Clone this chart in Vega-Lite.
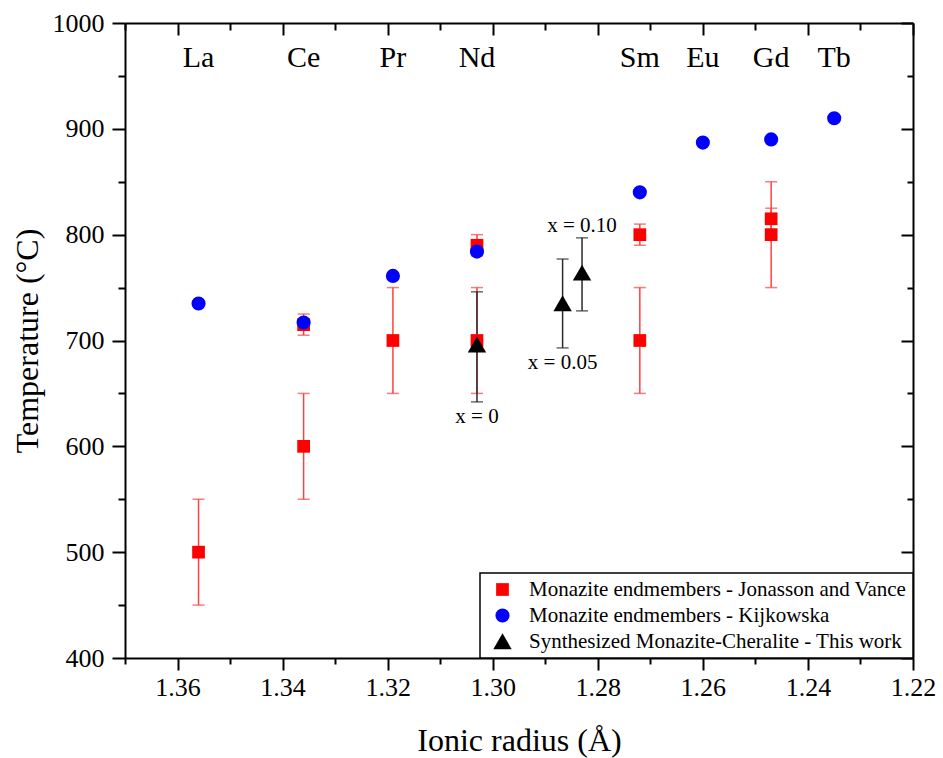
{
  "$schema": "https://vega.github.io/schema/vega-lite/v6.json",
  "width": 788,
  "height": 635,
  "autosize": {"type": "none"},
  "padding": {"left": 125, "top": 23, "right": 30, "bottom": 100},
  "background": "white",
  "config": {
    "view": {"stroke": null},
    "font": "Liberation Serif",
    "legend": {
      "orient": "bottom-right",
      "offset": 0,
      "padding": 6,
      "strokeColor": "black",
      "strokeWidth": 1.5,
      "fillColor": "white",
      "labelFont": "Liberation Serif",
      "labelFontSize": 21,
      "labelColor": "black",
      "labelLimit": 0,
      "rowPadding": 4,
      "symbolSize": 200,
      "symbolOffset": 6,
      "labelOffset": 16,
      "symbolOpacity": 1,
      "symbolStrokeWidth": 0
    }
  },
  "datasets": {
    "points": [
      {"series": "Monazite endmembers - Jonasson and Vance", "element": "La", "radius": 1.356, "temp": 500, "lo": 450, "hi": 550},
      {"series": "Monazite endmembers - Jonasson and Vance", "element": "Ce", "radius": 1.336, "temp": 600, "lo": 550, "hi": 650},
      {"series": "Monazite endmembers - Jonasson and Vance", "element": "Ce", "radius": 1.336, "temp": 715, "lo": 705, "hi": 725},
      {"series": "Monazite endmembers - Jonasson and Vance", "element": "Pr", "radius": 1.319, "temp": 700, "lo": 650, "hi": 750},
      {"series": "Monazite endmembers - Jonasson and Vance", "element": "Nd", "radius": 1.303, "temp": 700, "lo": 650, "hi": 750},
      {"series": "Monazite endmembers - Jonasson and Vance", "element": "Nd", "radius": 1.303, "temp": 790, "lo": 780, "hi": 800},
      {"series": "Monazite endmembers - Jonasson and Vance", "element": "Sm", "radius": 1.272, "temp": 700, "lo": 650, "hi": 750},
      {"series": "Monazite endmembers - Jonasson and Vance", "element": "Sm", "radius": 1.272, "temp": 800, "lo": 790, "hi": 810},
      {"series": "Monazite endmembers - Jonasson and Vance", "element": "Gd", "radius": 1.247, "temp": 800, "lo": 750, "hi": 850},
      {"series": "Monazite endmembers - Jonasson and Vance", "element": "Gd", "radius": 1.247, "temp": 815, "lo": 805, "hi": 825},
      {"series": "Monazite endmembers - Kijkowska", "element": "La", "radius": 1.356, "temp": 735},
      {"series": "Monazite endmembers - Kijkowska", "element": "Ce", "radius": 1.336, "temp": 717},
      {"series": "Monazite endmembers - Kijkowska", "element": "Pr", "radius": 1.319, "temp": 761},
      {"series": "Monazite endmembers - Kijkowska", "element": "Nd", "radius": 1.303, "temp": 784},
      {"series": "Monazite endmembers - Kijkowska", "element": "Sm", "radius": 1.272, "temp": 840},
      {"series": "Monazite endmembers - Kijkowska", "element": "Eu", "radius": 1.26, "temp": 887},
      {"series": "Monazite endmembers - Kijkowska", "element": "Gd", "radius": 1.247, "temp": 890},
      {"series": "Monazite endmembers - Kijkowska", "element": "Tb", "radius": 1.235, "temp": 910},
      {"series": "Synthesized Monazite-Cheralite - This work", "label": "x = 0", "radius": 1.303, "temp": 696, "lo": 642, "hi": 746},
      {"series": "Synthesized Monazite-Cheralite - This work", "label": "x = 0.05", "radius": 1.2867, "temp": 735, "lo": 693, "hi": 777},
      {"series": "Synthesized Monazite-Cheralite - This work", "label": "x = 0.10", "radius": 1.283, "temp": 764, "lo": 728, "hi": 797}
    ],
    "elements": [
      {"element": "La", "radius": 1.356},
      {"element": "Ce", "radius": 1.336},
      {"element": "Pr", "radius": 1.319},
      {"element": "Nd", "radius": 1.303},
      {"element": "Sm", "radius": 1.272},
      {"element": "Eu", "radius": 1.26},
      {"element": "Gd", "radius": 1.247},
      {"element": "Tb", "radius": 1.235}
    ]
  },
  "layer": [
    {
      "data": {"name": "points"},
      "transform": [{"filter": "datum.series === 'Monazite endmembers - Jonasson and Vance'"}],
      "mark": {
        "type": "errorbar",
        "color": "#ff4040",
        "ticks": {"size": 12, "thickness": 1.5},
        "rule": {"strokeWidth": 1.5}
      },
      "encoding": {
        "x": {"field": "radius", "type": "quantitative", "scale": {"domain": [1.22, 1.37], "reverse": true, "nice": false, "zero": false}, "axis": null},
        "y": {"field": "lo", "type": "quantitative", "scale": {"domain": [400, 1000], "nice": false, "zero": false}, "axis": null},
        "y2": {"field": "hi"}
      }
    },
    {
      "data": {"name": "points"},
      "transform": [{"filter": "datum.series === 'Synthesized Monazite-Cheralite - This work'"}],
      "mark": {
        "type": "errorbar",
        "color": "#2a2a2a",
        "ticks": {"size": 12, "thickness": 1.5},
        "rule": {"strokeWidth": 1.5}
      },
      "encoding": {
        "x": {"field": "radius", "type": "quantitative", "scale": {"domain": [1.22, 1.37], "reverse": true, "nice": false, "zero": false}, "axis": null},
        "y": {"field": "lo", "type": "quantitative", "scale": {"domain": [400, 1000], "nice": false, "zero": false}, "axis": null},
        "y2": {"field": "hi"}
      }
    },
    {
      "data": {"name": "points"},
      "mark": {"type": "point", "filled": true, "opacity": 1, "strokeWidth": 0, "size": 200},
      "encoding": {
        "x": {
          "field": "radius", "type": "quantitative",
          "scale": {"domain": [1.22, 1.37], "reverse": true, "nice": false, "zero": false},
          "axis": {
            "orient": "bottom",
            "values": [1.22, 1.23, 1.24, 1.25, 1.26, 1.27, 1.28, 1.29, 1.3, 1.31, 1.32, 1.33, 1.34, 1.35, 1.36, 1.37],
            "grid": false,
            "domainColor": "black", "domainWidth": 2,
            "tickColor": "black", "tickWidth": 2, "tickSize": 12,
            "tickDash": {"condition": {"test": "round(datum.value*100) % 2 == 1", "value": [6, 30]}, "value": []},
            "labelExpr": "round(datum.value*100) % 2 == 0 ? format(datum.value, '.2f') : ''",
            "labelFont": "Liberation Serif", "labelFontSize": 26, "labelColor": "black",
            "labelPadding": 4, "labelFlush": false, "labelOverlap": false,
            "title": "Ionic radius (Å)",
            "titleFont": "Liberation Serif", "titleFontSize": 32, "titleFontWeight": "normal", "titleColor": "black",
            "titlePadding": 25
          }
        },
        "y": {
          "field": "temp", "type": "quantitative",
          "scale": {"domain": [400, 1000], "nice": false, "zero": false},
          "axis": {
            "orient": "left",
            "values": [400, 450, 500, 550, 600, 650, 700, 750, 800, 850, 900, 950, 1000],
            "grid": false,
            "domainColor": "black", "domainWidth": 2,
            "tickColor": "black", "tickWidth": 2, "tickSize": 13,
            "tickDash": {"condition": {"test": "datum.value % 100 != 0", "value": [7, 30]}, "value": []},
            "labelExpr": "datum.value % 100 == 0 ? format(datum.value, 'd') : ''",
            "labelFont": "Liberation Serif", "labelFontSize": 26, "labelColor": "black",
            "labelPadding": 8, "labelFlush": false, "labelOverlap": false,
            "title": "Temperature (°C)",
            "titleFont": "Liberation Serif", "titleFontSize": 32, "titleFontWeight": "normal", "titleColor": "black",
            "titlePadding": 8
          }
        },
        "color": {
          "field": "series", "type": "nominal",
          "scale": {
            "domain": ["Monazite endmembers - Jonasson and Vance", "Monazite endmembers - Kijkowska", "Synthesized Monazite-Cheralite - This work"],
            "range": ["#ff0000", "#0000ff", "#000000"]
          },
          "legend": {"title": null}
        },
        "shape": {
          "field": "series", "type": "nominal",
          "scale": {
            "domain": ["Monazite endmembers - Jonasson and Vance", "Monazite endmembers - Kijkowska", "Synthesized Monazite-Cheralite - This work"],
            "range": ["M-0.9,-0.9H0.9V0.9H-0.9Z", "circle", "M0,-1.15L1.3,1.1L-1.3,1.1Z"]
          },
          "legend": {"title": null}
        }
      }
    },
    {
      "data": {"name": "elements"},
      "mark": {"type": "text", "font": "Liberation Serif", "fontSize": 30, "baseline": "alphabetic", "align": "center", "color": "black"},
      "encoding": {
        "x": {
          "field": "radius", "type": "quantitative",
          "scale": {"domain": [1.22, 1.37], "reverse": true, "nice": false, "zero": false},
          "axis": {
            "orient": "top",
            "values": [1.22, 1.23, 1.24, 1.25, 1.26, 1.27, 1.28, 1.29, 1.3, 1.31, 1.32, 1.33, 1.34, 1.35, 1.36, 1.37],
            "grid": false, "labels": false, "title": null,
            "domainColor": "black", "domainWidth": 2,
            "tickColor": "black", "tickWidth": 2, "tickSize": -12,
            "tickDash": {"condition": {"test": "round(datum.value*100) % 2 == 1", "value": [7, 30]}, "value": []}
          }
        },
        "y": {
          "datum": 958, "type": "quantitative",
          "scale": {"domain": [400, 1000], "nice": false, "zero": false},
          "axis": {
            "orient": "right",
            "values": [400, 450, 500, 550, 600, 650, 700, 750, 800, 850, 900, 950, 1000],
            "grid": false, "labels": false, "title": null,
            "domainColor": "black", "domainWidth": 2,
            "tickColor": "black", "tickWidth": 2, "tickSize": -12,
            "tickDash": {"condition": {"test": "datum.value % 100 != 0", "value": [6, 30]}, "value": []}
          }
        },
        "text": {"field": "element"}
      }
    },
    {
      "data": {"name": "points"},
      "transform": [{"filter": "datum.label === 'x = 0' || datum.label === 'x = 0.05'"}],
      "mark": {"type": "text", "font": "Liberation Serif", "fontSize": 21, "baseline": "alphabetic", "align": "center", "color": "black", "dy": 21},
      "encoding": {
        "x": {"field": "radius", "type": "quantitative", "scale": {"domain": [1.22, 1.37], "reverse": true, "nice": false, "zero": false}, "axis": null},
        "y": {"field": "lo", "type": "quantitative", "scale": {"domain": [400, 1000], "nice": false, "zero": false}, "axis": null},
        "text": {"field": "label"}
      }
    },
    {
      "data": {"name": "points"},
      "transform": [{"filter": "datum.label === 'x = 0.10'"}],
      "mark": {"type": "text", "font": "Liberation Serif", "fontSize": 21, "baseline": "alphabetic", "align": "center", "color": "black", "dy": -6},
      "encoding": {
        "x": {"field": "radius", "type": "quantitative", "scale": {"domain": [1.22, 1.37], "reverse": true, "nice": false, "zero": false}, "axis": null},
        "y": {"field": "hi", "type": "quantitative", "scale": {"domain": [400, 1000], "nice": false, "zero": false}, "axis": null},
        "text": {"field": "label"}
      }
    }
  ],
  "resolve": {"axis": {"x": "independent", "y": "independent"}}
}
